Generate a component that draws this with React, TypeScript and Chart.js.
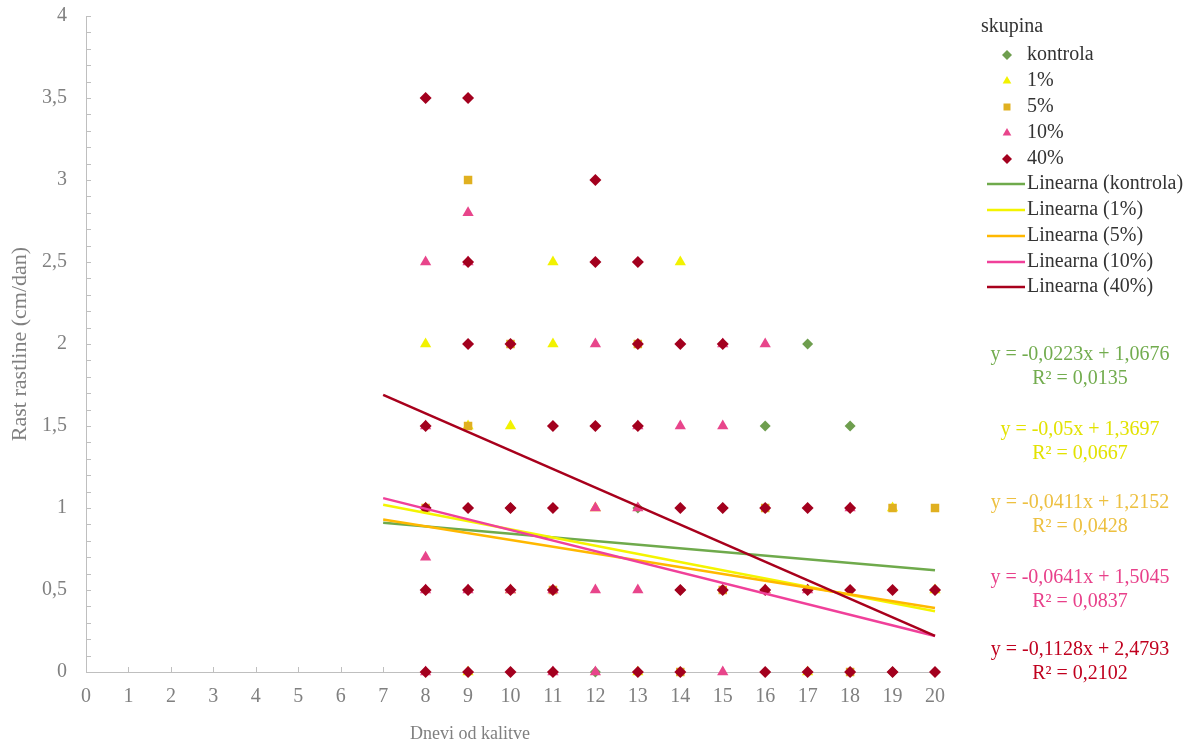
import React, { useEffect, useRef } from "react";
import { Chart, registerables } from "chart.js";

Chart.register(...registerables);

// ---- data ----
const kontrolaX = [8, 9, 10, 11, 12, 13, 14, 15, 16, 17, 18, 19, 20];
const kontrolaY = [1, 0.5, 1, 0.5, 0, 1, 0.5, 1, 1.5, 2, 1.5, 0, 0.5];

const onePctX = [8, 9, 10, 11, 11, 14, 19, 8, 9, 10, 12, 13, 16, 17, 20];
const onePctY = [2, 1.5, 1.5, 2.5, 2, 2.5, 1, 1, 0, 0.5, 1, 0, 0.5, 0, 0.5];

const fivePctX = [9, 9, 19, 20, 15, 10, 13, 18, 8, 11, 14, 16];
const fivePctY = [3, 1.5, 1, 1, 0.5, 2, 2, 0, 1, 0.5, 0, 1];

const tenPctX = [8, 8, 9, 9, 8, 12, 12, 12, 12, 13, 13, 13, 14, 15, 15, 15, 16, 16, 17, 18, 8, 9, 10, 11, 8, 11];
const tenPctY = [2.5, 0.7, 2.8, 2.5, 1.5, 2, 1, 0.5, 0, 1, 0.5, 1.5, 1.5, 1.5, 2, 0, 2, 0.5, 0.5, 1, 0.5, 0.5, 0.5, 0.5, 0, 0];

const fortyPctX = [8, 9, 9, 9, 10, 12, 12, 13, 13, 14, 15, 8, 11, 12, 13, 8, 9, 10, 11, 14, 15, 16, 17, 18, 8, 9, 10, 11, 14, 15, 16, 17, 18, 19, 20, 8, 9, 10, 11, 13, 14, 16, 17, 18, 19, 20];
const fortyPctY = [3.5, 3.5, 2.5, 2, 2, 3, 2.5, 2.5, 2, 2, 2, 1.5, 1.5, 1.5, 1.5, 1, 1, 1, 1, 1, 1, 1, 1, 1, 0.5, 0.5, 0.5, 0.5, 0.5, 0.5, 0.5, 0.5, 0.5, 0.5, 0.5, 0, 0, 0, 0, 0, 0, 0, 0, 0, 0, 0];

// trend line end points
const trendX = [7, 20];
const trendKontrola = [0.91, 0.62];
const trend1 = [1.02, 0.37];
const trend5 = [0.93, 0.39];
const trend10 = [1.06, 0.22];
const trend40 = [1.69, 0.22];

const seriesNames = ["kontrola", "1%", "5%", "10%", "40%"];
const trendNames = ["Linearna (kontrola)", "Linearna (1%)", "Linearna (5%)", "Linearna (10%)", "Linearna (40%)"];
const eqLines = ["y = -0,0223x + 1,0676", "y = -0,05x + 1,3697", "y = -0,0411x + 1,2152", "y = -0,0641x + 1,5045", "y = -0,1128x + 2,4793"];
const r2Lines = ["R² = 0,0135", "R² = 0,0667", "R² = 0,0428", "R² = 0,0837", "R² = 0,2102"];
const xTicks = [0, 1, 2, 3, 4, 5, 6, 7, 8, 9, 10, 11, 12, 13, 14, 15, 16, 17, 18, 19, 20];
const yTicks = [0, 0.5, 1, 1.5, 2, 2.5, 3, 3.5, 4];

// ---- styles ----
const markerColors = ["#6E9E4E", "#F2F200", "#E0B020", "#E8458B", "#A3001E"];
const markerStyles = ["rectRot", "triangle", "rect", "triangle", "rectRot"];
const markerRadius = [5.5, 6.5, 6, 6.5, 6];
const lineColors = ["#6FAA4C", "#F4F400", "#FFB800", "#F0409A", "#A8001C"];
const eqColors = ["#72AC4E", "#E2E200", "#EDC040", "#E8408A", "#C0001E"];
const FONT = "'Liberation Serif', 'DejaVu Serif', serif";
const GRAY = "#808080";

const pts = (xs: number[], ys: number[]) => xs.map((x, i) => ({ x, y: ys[i] }));

function drawMarker(ctx: CanvasRenderingContext2D, style: string, x: number, y: number, r: number, color: string) {
  ctx.save();
  ctx.fillStyle = color;
  ctx.beginPath();
  if (style === "rectRot") {
    ctx.moveTo(x, y - r);
    ctx.lineTo(x + r, y);
    ctx.lineTo(x, y + r);
    ctx.lineTo(x - r, y);
  } else if (style === "triangle") {
    ctx.moveTo(x, y - r);
    ctx.lineTo(x + r * 0.866, y + r * 0.5);
    ctx.lineTo(x - r * 0.866, y + r * 0.5);
  } else {
    const s = r * 0.7;
    ctx.rect(x - s, y - s, 2 * s, 2 * s);
  }
  ctx.closePath();
  ctx.fill();
  ctx.restore();
}

const decorPlugin = {
  id: "decor",
  beforeDatasetsDraw(chart: any) {
    const ctx: CanvasRenderingContext2D = chart.ctx;
    const xs = chart.scales.x;
    const ys = chart.scales.y;
    const area = chart.chartArea;
    ctx.save();
    ctx.strokeStyle = "#BFBFBF";
    ctx.lineWidth = 1;
    for (let i = 0; i <= 40; i++) {
      const py = Math.round(ys.getPixelForValue(i / 10)) + 0.5;
      ctx.beginPath();
      ctx.moveTo(area.left, py);
      ctx.lineTo(area.left + 5, py);
      ctx.stroke();
    }
    xTicks.forEach((v) => {
      const px = Math.round(xs.getPixelForValue(v)) + 0.5;
      ctx.beginPath();
      ctx.moveTo(px, area.bottom);
      ctx.lineTo(px, area.bottom - 5);
      ctx.stroke();
    });
    ctx.restore();
  },
  afterDraw(chart: any) {
    const ctx: CanvasRenderingContext2D = chart.ctx;
    const area = chart.chartArea;
    ctx.save();
    ctx.fillStyle = GRAY;
    ctx.textAlign = "center";
    ctx.textBaseline = "middle";
    ctx.font = `18px ${FONT}`;
    ctx.fillText("Dnevi od kalitve", 470, 734);
    ctx.save();
    ctx.font = `22px ${FONT}`;
    ctx.translate(20, (area.top + area.bottom) / 2);
    ctx.rotate(-Math.PI / 2);
    ctx.fillText("Rast rastline (cm/dan)", 0, 0);
    ctx.restore();

    // legend
    ctx.textAlign = "left";
    ctx.fillStyle = "#333333";
    ctx.font = `20px ${FONT}`;
    ctx.fillText("skupina", 981, 27);
    const rowY = [55, 81, 107, 133, 159, 184, 210, 236, 262, 287];
    seriesNames.forEach((n, i) => {
      drawMarker(ctx, markerStyles[i], 1007, rowY[i], 5, markerColors[i]);
      ctx.fillStyle = "#333333";
      ctx.fillText(n, 1027, rowY[i]);
    });
    trendNames.forEach((n, i) => {
      const y = rowY[5 + i];
      ctx.strokeStyle = lineColors[i];
      ctx.lineWidth = 2.5;
      ctx.beginPath();
      ctx.moveTo(987, y);
      ctx.lineTo(1025, y);
      ctx.stroke();
      ctx.fillStyle = "#333333";
      ctx.fillText(n, 1027, y);
    });

    // equations
    const eqY = [355, 430, 503, 578, 650];
    ctx.textAlign = "center";
    eqLines.forEach((t, i) => {
      ctx.fillStyle = eqColors[i];
      ctx.fillText(t, 1080, eqY[i]);
      ctx.fillText(r2Lines[i], 1080, eqY[i] + 24);
    });
    ctx.restore();
  },
};

export default function App() {
  const ref = useRef<HTMLCanvasElement | null>(null);
  useEffect(() => {
    if (!ref.current) return;
    const allX = [kontrolaX, onePctX, fivePctX, tenPctX, fortyPctX];
    const allY = [kontrolaY, onePctY, fivePctY, tenPctY, fortyPctY];
    const trends = [trendKontrola, trend1, trend5, trend10, trend40];

    const lineSets = [4, 3, 2, 1, 0].map((i) => ({
      label: trendNames[i],
      data: pts(trendX, trends[i]),
      showLine: true,
      borderColor: lineColors[i],
      borderWidth: 2.5,
      pointRadius: 0,
      fill: false,
      clip: false,
    }));
    const pointSets = [4, 3, 2, 1, 0].map((i) => ({
      label: seriesNames[i],
      data: pts(allX[i], allY[i]),
      showLine: false,
      pointStyle: markerStyles[i],
      pointRadius: markerRadius[i],
      pointBackgroundColor: markerColors[i],
      pointBorderColor: markerColors[i],
      pointBorderWidth: 0,
      clip: false,
    }));

    const chart = new Chart(ref.current, {
      type: "scatter",
      data: { datasets: [...lineSets, ...pointSets] as any },
      options: {
        animation: false,
        responsive: true,
        maintainAspectRatio: false,
        layout: { padding: { left: 0, top: 16, right: 267, bottom: 0 } },
        plugins: { legend: { display: false }, tooltip: { enabled: false } },
        scales: {
          x: {
            type: "linear",
            min: 0,
            max: 20,
            afterBuildTicks: (s: any) => {
              s.ticks = xTicks.map((v) => ({ value: v }));
            },
            afterFit: (s: any) => {
              s.height = 74;
              s.paddingLeft = 0;
              s.paddingRight = 0;
            },
            grid: { display: false, drawTicks: false },
            border: { display: true, color: "#BFBFBF", width: 1 },
            ticks: { color: GRAY, font: { family: FONT, size: 20 }, padding: 13, maxRotation: 0, autoSkip: false },
          },
          y: {
            type: "linear",
            min: 0,
            max: 4,
            afterBuildTicks: (s: any) => {
              s.ticks = yTicks.map((v) => ({ value: v }));
            },
            afterFit: (s: any) => {
              s.width = 86;
              s.paddingTop = 0;
              s.paddingBottom = 0;
            },
            grid: { display: false, drawTicks: false },
            border: { display: true, color: "#BFBFBF", width: 1 },
            ticks: {
              color: GRAY,
              font: { family: FONT, size: 20 },
              padding: 19,
              callback: (v: any) => String(v).replace(".", ","),
            },
          },
        },
      },
      plugins: [decorPlugin],
    });
    return () => chart.destroy();
  }, []);

  return (
    <div style={{ position: "fixed", left: 0, top: 0, width: 1202, height: 746, background: "#fff" }}>
      <canvas ref={ref} />
    </div>
  );
}
